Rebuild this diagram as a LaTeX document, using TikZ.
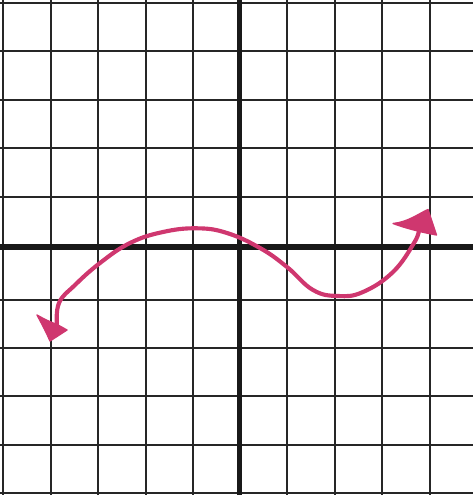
\documentclass[tikz,border=0pt]{standalone}
\usepackage{xcolor}
\usepackage{tikz}
\usetikzlibrary{positioning}
\definecolor{curvepink}{RGB}{207,55,111}

\begin{document}
\begin{tikzpicture}[x=0.75pt, y=-0.75pt,
    gridline/.style={line width=1.5pt, black!85},
    axisline/.style={line width=3.9pt, black!90},
    wave/.style={line width=3.1pt, curvepink, line cap=round, line join=round},
    tiphead/.style={fill=curvepink, draw=curvepink, line width=1pt, line join=round}]
  \useasboundingbox (0,0) rectangle (473,495);
  \clip (0,0) rectangle (473,495);

  \foreach \gx in {3,50.7,98.3,146,193.3,286.7,335,382.3,430}
    \draw[gridline] (\gx,-5) -- (\gx,500);
  \foreach \gy in {3.3,51.3,99.7,147.7,197.3,299.5,348.3,396,445,493}
    \draw[gridline] (-5,\gy) -- (480,\gy);
  \draw[axisline] (239.5,-5) -- (239.5,500);
  \draw[axisline] (-5,247) -- (480,247);

  \draw[wave] plot[smooth, tension=0.7] coordinates {(57,326) (59,303) (75,285)
    (100,263) (130,243) (163,232) (197,228.3) (227,233) (260,248) (287,267) (313,290)
    (338,296) (363,292) (393,272) (414,243) (419,230)};

  \filldraw[tiphead] (37,315) .. controls (46,320) .. (58,325) -- (67,330)
    -- (50,341) .. controls (45,330) .. (37,315) -- cycle;
  \filldraw[tiphead] (393,223.5) .. controls (408,222) and (418,214) .. (428,209.5)
    -- (436.5,235) .. controls (420,232) and (405,228) .. (393,223.5) -- cycle;
\end{tikzpicture}
\end{document}
